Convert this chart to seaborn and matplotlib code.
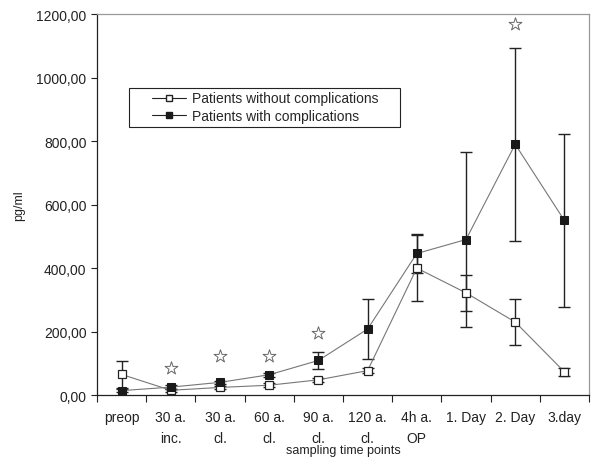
import matplotlib
matplotlib.use("Agg")
import matplotlib.pyplot as plt
import matplotlib.ticker as mticker
from matplotlib.patches import Rectangle
import numpy as np
import pandas as pd
import seaborn as sns

# categories on the x axis
time_points = ['preop', '30 a.\ninc.', '30 a.\ncl.', '60 a.\ncl.', '90 a.\ncl.',
               '120 a.\ncl.', '4h a.\nOP', '1. Day', '2. Day', '3.day']

# means and error (pg/ml)
without_mean = [65, 15, 24, 31, 48, 77, 400, 322, 230, 73]
without_err = [43, 5, 6, 6, 6, 8, 105, 56, 72, 12]
with_mean = [14, 25, 40, 64, 109, 208, 446, 490, 790, 550]
with_err = [4, 6, 5, 6, 26, 95, 60, 276, 305, 272]

# significance stars
star_idx = [1, 2, 3, 4, 8]
star_val = [84, 123, 123, 195, 1168]

sns.set_style('white')
plt.rcParams['font.family'] = ['Liberation Sans', 'DejaVu Sans']

x = np.arange(len(time_points))
df = pd.DataFrame({
    'x': np.concatenate([x, x]),
    'value': without_mean + with_mean,
    'group': ['Patients without complications'] * len(x) + ['Patients with complications'] * len(x),
})

fig = plt.figure(figsize=(5.94, 4.6), dpi=100)
ax = fig.add_axes([0.1633, 0.139, 0.8283, 0.828])

# error bars first so the markers sit on top
ax.errorbar(x, without_mean, yerr=without_err, fmt='none', ecolor='#222222',
            elinewidth=1, capsize=4, capthick=1, zorder=2)
ax.errorbar(x, with_mean, yerr=with_err, fmt='none', ecolor='#222222',
            elinewidth=1, capsize=4, capthick=1, zorder=2)

sns.lineplot(data=df[df['group'] == 'Patients without complications'], x='x', y='value',
             ax=ax, color='#777777', linewidth=0.8, marker='s', markersize=5.5,
             markerfacecolor='white', markeredgecolor='#222222', markeredgewidth=0.9,
             zorder=3, legend=False)
sns.lineplot(data=df[df['group'] == 'Patients with complications'], x='x', y='value',
             ax=ax, color='#777777', linewidth=0.8, marker='s', markersize=6,
             markerfacecolor='#1a1a1a', markeredgecolor='#1a1a1a',
             zorder=3, legend=False)

ax.scatter(x[star_idx], star_val, marker='*', s=95, facecolor='white',
           edgecolor='#666666', linewidth=0.7, zorder=4)

# legend in Excel style (wider frame drawn separately)
h1 = plt.Line2D([], [], color='#222222', linewidth=0.8, marker='s', markersize=4.5,
                markerfacecolor='white', markeredgecolor='#222222')
h2 = plt.Line2D([], [], color='#222222', linewidth=0.8, marker='s', markersize=5,
                markerfacecolor='#1a1a1a', markeredgecolor='#1a1a1a')
leg = ax.legend([h1, h2], ['Patients without complications', 'Patients with complications'],
                loc='upper left', bbox_to_anchor=(0.112, 0.797), fontsize=10,
                frameon=False, handlelength=2.45, handletextpad=0.4, borderpad=0,
                labelspacing=0.25, borderaxespad=0)
ax.add_patch(Rectangle((0.065, 0.703), 0.551, 0.103, transform=ax.transAxes,
                       facecolor='white', edgecolor='#222222', linewidth=0.8, zorder=4))
leg.set_zorder(5)

ax.set_xlim(-0.5, len(x) - 0.5)
ax.set_ylim(0, 1200)
ax.set_xticks(x)
ax.set_xticklabels(time_points, fontsize=10, color='#222222', linespacing=1.65)
ax.set_xticks(np.arange(len(x) + 1) - 0.5, minor=True)
ax.tick_params(axis='x', which='major', length=0, pad=11)
ax.tick_params(axis='x', which='minor', length=5, width=0.8, direction='out', bottom=True, color='#222222')
ax.set_yticks(np.arange(0, 1201, 200))
ax.yaxis.set_major_formatter(mticker.FuncFormatter(lambda v, p: f'{v:.2f}'.replace('.', ',')))
ax.tick_params(axis='y', length=4, width=0.8, direction='out', left=True, labelsize=10,
               color='#222222', labelcolor='#222222')

ax.set_xlabel('sampling time points', fontsize=9, labelpad=-1, color='#222222')
ax.set_ylabel('pg/ml', fontsize=9, labelpad=8, color='#222222')

for side in ['left', 'bottom']:
    ax.spines[side].set_color('#222222')
    ax.spines[side].set_linewidth(0.9)
for side in ['top', 'right']:
    ax.spines[side].set_color('#999999')
    ax.spines[side].set_linewidth(0.9)

fig.savefig('out.png', dpi=100)
